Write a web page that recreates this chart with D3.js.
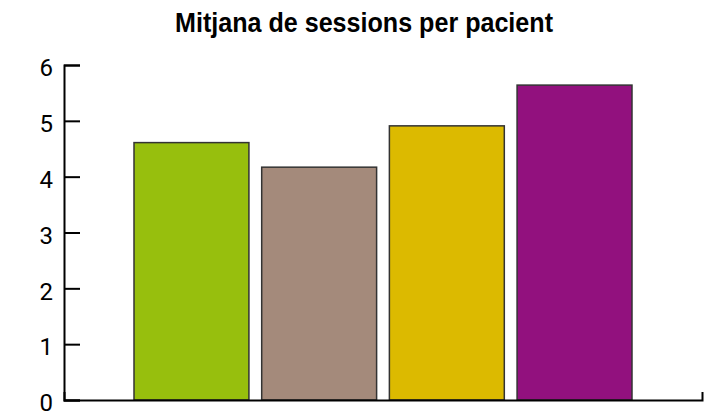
<!DOCTYPE html>
<html>
<head>
<meta charset="utf-8">
<script src="https://cdn.jsdelivr.net/npm/d3@7"></script>
<style>
  body { margin: 0; background: #fff; }
</style>
</head>
<body>
<script>
// chart data
var categories = ["A", "B", "C", "D"];
var values = [4.61, 4.17, 4.91, 5.64];
var colors = ["#97bf0d", "#a48a7b", "#dcba00", "#92117e"];
var yTicks = [0, 1, 2, 3, 4, 5, 6];
var title = "Mitjana de sessions per pacient";

var width = 708, height = 415;

var svg = d3.select("body")
            .append("svg")
            .attr("width", width)
            .attr("height", height);

// scales
var y = d3.scaleLinear().domain([0, 6]).range([400, 65]);
var x = d3.scaleBand()
          .domain(categories)
          .range([134, 632])
          .paddingInner(0.1)
          .paddingOuter(0);

// title (condensed look squeezed with textLength)
svg.append("text")
   .attr("x", 364)
   .attr("y", 32)
   .attr("text-anchor", "middle")
   .attr("textLength", 378)
   .attr("lengthAdjust", "spacingAndGlyphs")
   .style("font-family", "'Liberation Sans', Arial, sans-serif")
   .style("font-weight", "bold")
   .style("font-size", "27px")
   .style("fill", "#000")
   .text(title);

// bars
svg.selectAll(".bar")
   .data(values)
   .enter()
   .append("rect")
   .attr("class", "bar")
   .attr("x", function(d, i) { return x(categories[i]); })
   .attr("y", function(d) { return y(d); })
   .attr("width", x.bandwidth())
   .attr("height", function(d) { return y(0) - y(d); })
   .style("fill", function(d, i) { return colors[i]; })
   .style("stroke", "#333")
   .style("stroke-width", 1.5);

// y axis, ticks pointing inward
var yAxis = svg.append("g")
   .attr("transform", "translate(64,0)")
   .call(d3.axisLeft(y).tickValues(yTicks).tickFormat(d3.format("d")).tickSize(-16));

yAxis.selectAll("path, line")
     .style("stroke", "#000")
     .style("stroke-width", 2);
yAxis.selectAll("text")
     .attr("x", -11)
     .attr("dy", "0.45em")
     .style("font-family", "Roboto, 'Noto Sans', sans-serif")
     .style("font-size", "24px")
     .style("fill", "#000");

// x axis baseline with small end tick
var xAxis = svg.append("g")
   .attr("transform", "translate(0,400)")
   .call(d3.axisBottom(d3.scaleLinear().domain([0, 1]).range([64, 702]))
           .tickValues([]).tickSizeOuter(-8));

xAxis.selectAll("path")
     .style("stroke", "#000")
     .style("stroke-width", 2)
     .style("fill", "none");
</script>
</body>
</html>
